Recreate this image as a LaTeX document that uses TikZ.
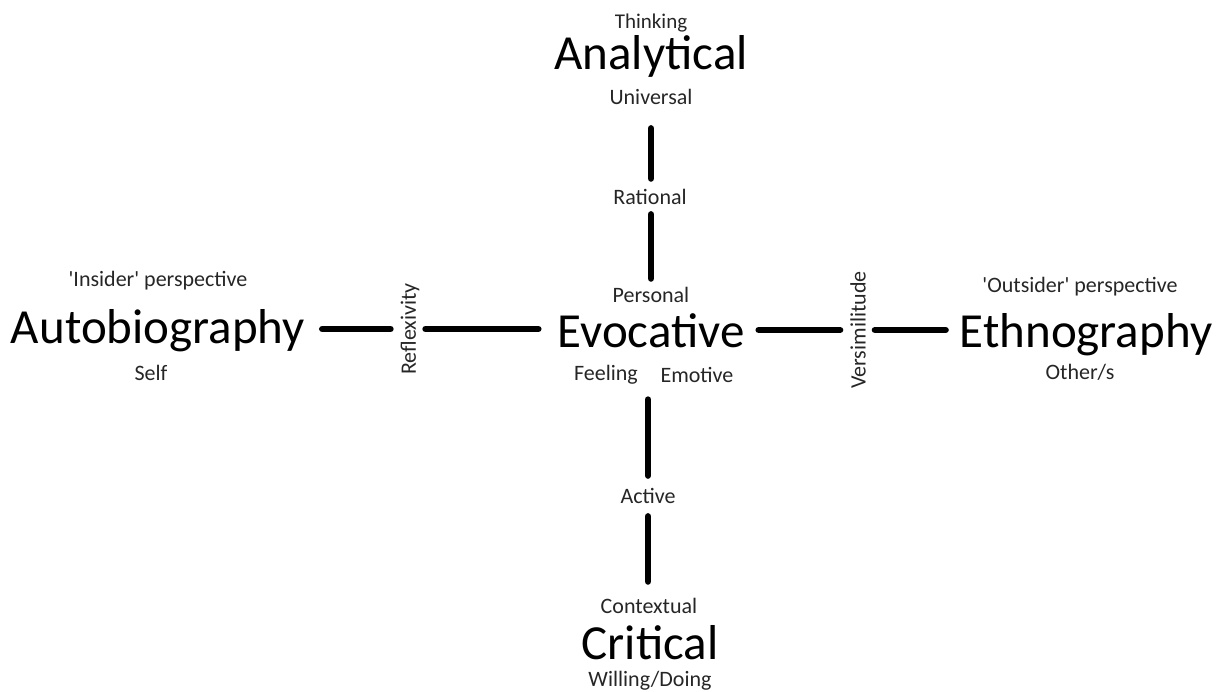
\documentclass[tikz,border=0pt]{standalone}
\usepackage{fontspec}
\setmainfont{Carlito}
\definecolor{labelgrey}{RGB}{38,38,38}
\tikzset{
  big/.style={inner sep=0pt, anchor=base, font=\fontsize{49}{58}\selectfont, text=black},
  small/.style={inner sep=0pt, anchor=base, font=\fontsize{22}{26}\selectfont, text=labelgrey},
  sideways/.style={inner sep=0pt, anchor=center, rotate=90, font=\fontsize{22}{26}\selectfont, text=labelgrey},
  bar/.style={line width=6.5pt, line cap=round, draw=black}
}
\begin{document}
\begin{tikzpicture}[x=1pt, y=-1pt]
\useasboundingbox (0,0) rectangle (1223,691);

% top pole
\node[small, font=\fontsize{21}{25}\selectfont] (think) at (651,28) {Thinking};
\node[big] (anal) at (651,69) {Analytical};
\node[small] (univ) at (651,104) {Universal};
\node[small] (rat) at (650,204) {Rational};
\node[small] (pers) at (651,302) {Personal};

% centre
\node[big] (evo) at (651,347) {Evocative};
\node[small] (feel) at (606,380) {Feeling};
\node[small] (emot) at (697,382) {Emotive};

% bottom pole
\node[small] (act) at (648,503) {Active};
\node[small] (ctx) at (649,613) {Contextual};
\node[big] (crit) at (650,659) {Critical};
\node[small] (will) at (650,686) {Willing/Doing};

% left pole
\node[small] (ins) at (158,286) {\textquotesingle Insider\textquotesingle\ perspective};
\node[big] (auto) at (158,343) {Autobiography};
\node[small] (self) at (151,380) {Self};
\node[sideways] (refl) at (410,329) {Reflexivity};

% right pole
\node[sideways] (vers) at (858,330) {Versimilitude};
\node[small] (outs) at (1080,292) {\textquotesingle Outsider\textquotesingle\ perspective};
\node[big] (eth) at (1086,347) {Ethnography};
\node[small] (oth) at (1080,379) {Other/s};

% vertical axis
\draw[bar, shorten <=24pt, shorten >=10pt] (univ.south) -- (univ.south |- rat.north);
\draw[bar, shorten <=10pt, shorten >=8pt] (rat.south -| univ.south) -- (pers.north -| univ.south);
\draw[bar, shorten <=52pt, shorten >=12pt] (evo.south -| act.north) -- (act.north);
\draw[bar, shorten <=13pt, shorten >=16pt] (act.south) -- (act.south |- ctx.north);

% horizontal axis (the rotated labels have north on the left, south on the right)
\draw[bar, shorten <=17pt, shorten >=10pt] (auto.east |- refl.north) -- (refl.north);
\draw[bar, shorten <=6pt, shorten >=19pt] (refl.south) -- (refl.south -| evo.west);
\draw[bar, shorten <=14pt, shorten >=10pt] (evo.east |- vers.north) -- (vers.north);
\draw[bar, shorten <=9pt, shorten >=14pt] (vers.south) -- (vers.south -| eth.west);
\end{tikzpicture}
\end{document}
